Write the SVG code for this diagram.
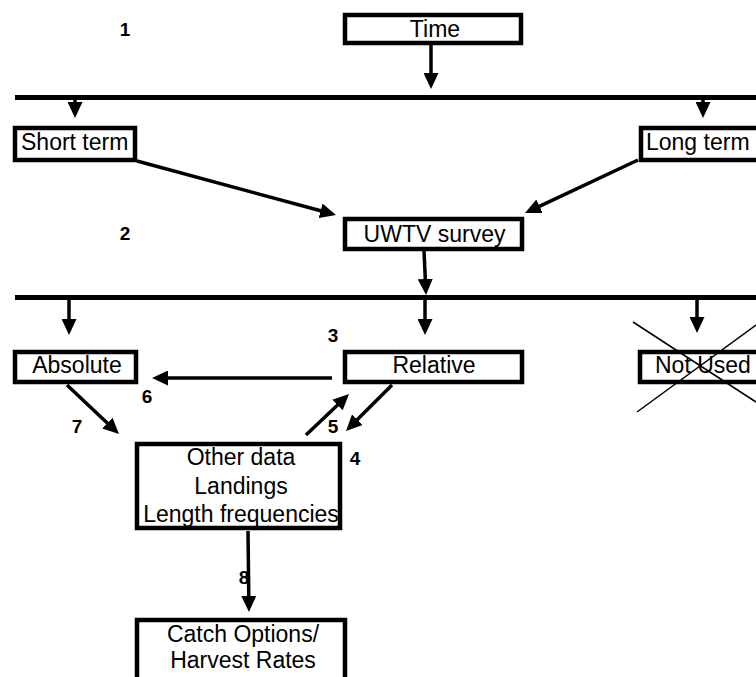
<svg xmlns="http://www.w3.org/2000/svg" width="756" height="677" viewBox="0 0 756 677">
<style>
.box{fill:#fff;stroke:#000;stroke-width:4.5}
.lbl{font-family:"Liberation Sans",Arial,sans-serif;font-size:23px;fill:#000}
.num{font-family:"Liberation Sans",Arial,sans-serif;font-size:19px;font-weight:bold;fill:#000;text-anchor:middle}
.c{text-anchor:middle}
.bar{stroke:#000;stroke-width:5}
.arr{stroke:#000;stroke-width:3.5;fill:none;marker-end:url(#ah)}
.x{stroke:#000;stroke-width:1.5}
</style>
<defs>
<marker id="ah" viewBox="0 0 16 15" markerWidth="16" markerHeight="15" markerUnits="userSpaceOnUse" refX="2" refY="7.5" orient="auto">
<path d="M0,0 L16,7.5 L0,15 Z" fill="#000"/>
</marker>
</defs>
<rect width="756" height="677" fill="#fff"/>
<g id="connectors">
<line class="bar" x1="15" y1="97.5" x2="756" y2="97.5"/>
<line class="bar" x1="15" y1="297.5" x2="756" y2="297.5"/>
<line class="arr" x1="431" y1="45" x2="431" y2="75"/>
<line class="arr" x1="75" y1="100" x2="75" y2="104"/>
<line class="arr" x1="703" y1="100" x2="703" y2="104"/>
<line class="arr" x1="137" y1="161" x2="322.5" y2="211.3"/>
<line class="arr" x1="638" y1="160" x2="537.7" y2="207.1"/>
<line class="arr" x1="424" y1="251" x2="425.4" y2="281"/>
<line class="arr" x1="69" y1="300" x2="69" y2="321"/>
<line class="arr" x1="425" y1="300" x2="425" y2="321"/>
<line class="arr" x1="697" y1="300" x2="697" y2="319"/>
<line class="arr" x1="332" y1="378" x2="166" y2="378"/>
<line class="arr" x1="67" y1="385" x2="108.8" y2="424.4"/>
<line class="arr" x1="306" y1="435" x2="338.9" y2="403.7"/>
<line class="arr" x1="392" y1="385" x2="355.9" y2="421.1"/>
<line class="arr" x1="248" y1="531" x2="248.8" y2="598"/>
</g>
<g id="time"><rect class="box" x="345" y="15" width="176" height="28"/><text class="lbl c" x="435" y="37">Time</text></g>
<g id="short-term"><rect class="box" x="15" y="128" width="120" height="32"/><text class="lbl" x="21" y="150">Short term</text></g>
<g id="long-term"><rect class="box" x="641" y="128" width="130" height="32"/><text class="lbl" x="646" y="150">Long term</text></g>
<g id="uwtv"><rect class="box" x="345" y="219" width="177" height="30"/><text class="lbl c" x="434.5" y="242">UWTV survey</text></g>
<g id="absolute"><rect class="box" x="15" y="352" width="121" height="30"/><text class="lbl c" x="77" y="373">Absolute</text></g>
<g id="relative"><rect class="box" x="345" y="352" width="177" height="30"/><text class="lbl c" x="434" y="373">Relative</text></g>
<g id="not-used"><rect class="box" x="640" y="352" width="130" height="30"/><text class="lbl" x="655" y="373">Not Used</text>
<line class="x" x1="633" y1="322" x2="756" y2="402"/><line class="x" x1="637" y1="412" x2="756" y2="325"/></g>
<g id="other-data"><rect class="box" x="137" y="444" width="203" height="84"/>
<text class="lbl c" x="241" y="465">Other data</text><text class="lbl c" x="241" y="494">Landings</text><text class="lbl c" x="241" y="522">Length frequencies</text></g>
<g id="catch"><rect class="box" x="137" y="620" width="208" height="80"/>
<text class="lbl c" x="243" y="642">Catch Options/</text><text class="lbl c" x="243" y="668">Harvest Rates</text></g>
<g id="numbers">
<text class="num" x="125" y="36">1</text>
<text class="num" x="125" y="240">2</text>
<text class="num" x="333" y="342">3</text>
<text class="num" x="355" y="465">4</text>
<text class="num" x="333" y="433">5</text>
<text class="num" x="147" y="403">6</text>
<text class="num" x="77" y="433">7</text>
<text class="num" x="244" y="584">8</text>
</g>
</svg>
